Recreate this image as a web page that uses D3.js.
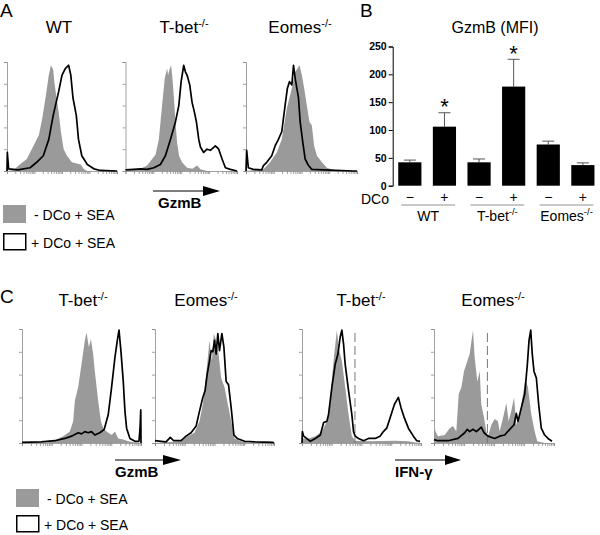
<!DOCTYPE html>
<html><head><meta charset="utf-8">
<script src="https://cdn.jsdelivr.net/npm/d3@7"></script>
<style>body{margin:0;background:#fff}svg{display:block;font-family:"Liberation Sans",Arial,sans-serif}</style>
</head><body><svg id="c" width="600" height="535"></svg>
<script>
// ---------- DATA ----------
// Histograms: [channel (0-100 across plot), % of max]
const A_WT_gray = [[0,0],[6,1],[10.6,5],[18,11],[24,23],[29,33],[32,48],[35,67],[38,88],[40,97],[42,93],[43,82],[45,67],[47,54],[49,36],[51.5,20],[54.5,14],[59,8],[67,6],[70,1.5],[73,0],[100,0]];
const A_WT_black = [[0,0],[0.3,17],[1.5,2],[10,1],[21,3],[27,8],[33,14],[38,29],[42,51],[47,73],[50,88],[53,94],[56,97],[58,88],[60,67],[63,51],[65,29],[68,14],[73,6],[79,2],[85,0.5],[100,0]];
const A_Tbet_gray = [[0,0],[1.5,0.5],[13.4,2],[19.4,5],[23.9,11],[26.9,15],[29.9,29],[32.8,60],[35.2,85],[37.3,94],[38.2,88],[39.4,93],[40.9,97],[42.1,85],[43.3,69],[44.8,45],[46.3,26],[48,14],[50.7,8],[55.2,3],[60,2],[64.2,5],[67.2,1.5],[73,0],[100,0]];
const A_Tbet_black = [[0,1],[7.5,1.5],[13.4,2],[19.4,1.5],[25.4,3],[31.3,6],[35.8,14],[40.3,29],[44.8,45],[47.8,60],[49.9,82],[52.2,97],[53.7,91],[55.2,88],[57.6,79],[59.7,63],[61.8,54],[63.6,45],[65.7,29],[67.2,22],[70.1,17],[73.1,20],[76.1,19],[80.6,23],[83.6,20],[86.6,11],[89.6,3],[94,1.5],[100,0]];
const A_Eomes_gray = [[0,0],[15.7,1.5],[21.7,8],[27.7,17],[32.2,29],[36.7,57],[41.3,76],[44.3,91],[46.4,94],[48.2,97],[50.3,88],[52.4,76],[54.8,60],[57.2,45],[59.3,42],[61.4,23],[63.9,14],[68.4,8],[72.9,3],[78.9,1],[84.9,0],[100,0]];
const A_Eomes_black = [[0,0],[0.6,19],[2.1,3],[6.6,1.5],[14.2,1],[15.7,5],[18.7,8],[23.2,14],[26.2,23],[29.2,29],[32.2,36],[35.2,60],[37.3,76],[39.2,82],[41.3,79],[42.8,97],[44.3,85],[45.8,76],[47.3,67],[48.8,45],[51.2,26],[53.3,11],[56.3,5],[59.3,1.5],[69.9,1],[97,0],[100,0]];

const C_GzmB_Tbet_gray = [[0,0],[21.9,0.5],[28.9,3],[34.6,6],[40.2,10],[43,19],[44.4,37],[47.2,49],[50,69],[52.8,90],[54.2,97],[56.2,84],[57.9,91],[59.8,78],[61.2,63],[64,37],[66.3,19],[68.3,13],[71.1,10],[75.3,7],[78.1,10],[80.9,4],[85.1,3],[89.3,1.5],[94.9,0.5],[100,0]];
const C_GzmB_Tbet_black = [[0,0.5],[16.3,1],[27.5,2],[36,4],[41.6,6],[47.2,9],[50,8],[52.8,10],[55.6,9],[58.4,10],[61.2,7],[65.4,9],[69.1,12],[72.5,25],[75.3,49],[78.1,75],[80.1,90],[81.5,99],[83.1,81],[85.1,54],[86.5,28],[87.9,13],[90.7,4],[94.9,1.5],[98.3,1.5],[99.2,13],[99.8,29],[100,0]];
const C_GzmB_Eomes_gray = [[0,0],[21.9,1.5],[27.5,6],[33.1,9],[37.4,19],[40.2,34],[43,60],[45.8,90],[47.8,72],[49.4,96],[51.4,90],[53.4,78],[55.6,57],[58.4,49],[61.2,34],[64,19],[66.9,4],[72.5,1.5],[78.1,0],[100,0]];
const C_GzmB_Eomes_black = [[0,2],[5.1,1.5],[9.3,1],[12.9,5],[15.7,2],[21.9,2],[26.1,6],[30.3,9],[34.6,15],[37.4,28],[40.2,40],[42.1,46],[43.8,60],[45.8,72],[47.2,81],[48.6,80],[50,90],[51.4,78],[52.8,96],[54.2,81],[56.2,96],[57.9,84],[59.8,54],[61.8,51],[64,31],[66.3,7],[69.1,4],[75.3,1.5],[83.7,1],[99.2,0.5],[100,0]];
const C_IFN_Tbet_gray = [[0,4],[5.6,4],[11.2,6],[16.8,10],[20.9,19],[23.7,34],[25.7,63],[27.4,81],[29.3,99],[31.3,81],[33.5,72],[36.3,49],[39.1,25],[41.9,6],[44.7,2],[55.9,1.5],[78.2,2],[89.4,1.5],[95,0.5],[100,0]];
const C_IFN_Tbet_black = [[0,0],[0.3,10],[1.4,6],[7,1.5],[11.2,4],[15.4,7],[18.2,18],[20.9,19],[22.3,25],[25.1,49],[27.9,69],[30.2,78],[32.1,93],[33.5,99],[34.9,87],[36.3,69],[39.1,46],[41.9,25],[43.3,10],[44.7,6],[47.5,4],[51.7,2],[55.9,4],[61.5,4],[65.6,6],[68.4,10],[71.2,13],[74,22],[77.7,34],[81,40],[83.2,31],[86,22],[89.4,13],[93.6,6],[96.4,2],[99.2,1.5]];
const C_IFN_Eomes_gray = [[0,13],[3.3,6],[8.9,7],[13.1,13],[15.8,15],[18.6,10],[20.6,43],[22.8,49],[25,63],[26.9,69],[29.7,78],[32.5,99],[33.9,75],[36.1,54],[38.1,63],[39.4,34],[41.7,22],[43.6,10],[45,6],[47.8,16],[50.6,21],[53.3,19],[54.7,10],[57.5,22],[60.3,35],[62.2,19],[64.4,28],[66.7,40],[68.6,16],[71.4,25],[74.2,43],[76.1,56],[78.3,49],[81.1,25],[83.9,10],[86.1,1.5],[92.2,0],[100,0]];
const C_IFN_Eomes_black = [[0,3],[3.3,2],[11.7,2],[20,4],[25.6,9],[27.8,12],[29.7,10],[32.5,12],[35.3,10],[39.4,14],[41.7,9],[45,6],[50.6,4],[54.7,6],[58.9,7],[63.1,12],[66.7,16],[68.6,26],[70,19],[72.8,31],[75.6,43],[77.8,69],[79.2,90],[80.6,99],[81.9,78],[83.3,63],[85.3,57],[87.2,34],[89.4,13],[92.2,7],[95,4],[98.3,1.5]];
const ifnGateChannel = 44.5;

// Bar chart (panel B)
const barGroups = ["WT","T-bet","Eomes"];
const dcoSigns = ["\u2212","+"];
const mfiMean = [42, 106, 42, 178, 74, 37];
const mfiErrTop = [46, 131, 48, 227, 80, 41];
const mfiSignificant = [false, true, false, true, false, false];
const mfiTicks = [0, 50, 100, 150, 200, 250];
const legendLabels = ["- DCo + SEA", "+ DCo + SEA"];

// ---------- DRAW ----------
const svg = d3.select("#c");
const FONT = '"Liberation Sans", Arial, sans-serif';
const GRAY = "#9a9a9a", AX = "#8a8a8a";

function title(x, y, main, sup, size, supSize) {
  const t = svg.append("text").attr("x", x).attr("y", y).attr("text-anchor", "middle")
    .attr("font-size", size || 17).attr("fill", "#000");
  t.append("tspan").text(main);
  if (sup) t.append("tspan").attr("font-size", supSize || 11).attr("dy", -6).text(sup);
  return t;
}

function hist(x0, x1, yTop, yBot, gray, black, gate) {
  const x = d3.scaleLinear().domain([0, 100]).range([x0, x1]);
  const y = d3.scaleLinear().domain([0, 100]).range([yBot, yTop]);
  const xl = d3.scaleLog().domain([1, 10000]).range([x0, x1]);
  const gx = svg.append("g").attr("transform", `translate(0,${yBot})`)
    .call(d3.axisBottom(xl).tickSize(3).tickFormat(""));
  const gy = svg.append("g").attr("transform", `translate(${x0},0)`)
    .call(d3.axisLeft(y).tickValues([0,20,40,60,80,100]).tickSize(3).tickFormat(""));
  [gx, gy].forEach(g => { g.selectAll("path,line").attr("stroke", AX).attr("stroke-width", 0.8); });
  svg.append("path").datum(gray)
    .attr("d", d3.area().x(d => x(d[0])).y0(y(0)).y1(d => y(d[1])))
    .attr("fill", GRAY);
  if (gate != null) {
    svg.append("line").attr("x1", x(gate)).attr("x2", x(gate))
      .attr("y1", yTop + 4).attr("y2", yBot)
      .attr("stroke", "#777").attr("stroke-width", 1).attr("stroke-dasharray", "9,4");
  }
  svg.append("path").datum(black)
    .attr("d", d3.line().x(d => x(d[0])).y(d => y(d[1])))
    .attr("fill", "none").attr("stroke", "#000").attr("stroke-width", 1.7)
    .attr("stroke-linejoin", "round");
}

function arrow(x0, x1, xh, y, label, lx) {
  svg.append("line").attr("x1", x0).attr("x2", x1).attr("y1", y).attr("y2", y)
    .attr("stroke", "#000").attr("stroke-width", 1);
  svg.append("path").attr("d", `M${x1},${y-5}L${xh},${y}L${x1},${y+5}Z`).attr("fill", "#000");
  svg.append("text").attr("x", lx).attr("y", y + 17).attr("font-size", 15)
    .attr("font-weight", "bold").text(label);
}

function legend(x, y, gap) {
  svg.append("rect").attr("x", x).attr("y", y).attr("width", 23).attr("height", 18).attr("fill", GRAY);
  svg.append("text").attr("x", x + 31).attr("y", y + 15).attr("font-size", 14).text(legendLabels[0]);
  svg.append("rect").attr("x", x + 0.75).attr("y", y + gap + 0.75).attr("width", 22).attr("height", 16)
    .attr("fill", "#fff").attr("stroke", "#000").attr("stroke-width", 1.5);
  svg.append("text").attr("x", x + 28).attr("y", y + gap + 15).attr("font-size", 14).text(legendLabels[1]);
}

// Panel letters
svg.append("text").attr("x", 0).attr("y", 17).attr("font-size", 19).text("A");
svg.append("text").attr("x", 360).attr("y", 17).attr("font-size", 19).text("B");
svg.append("text").attr("x", 0).attr("y", 303).attr("font-size", 19).text("C");

// Panel A
title(59, 33, "WT");
title(184, 33, "T-bet", "-/-");
title(300, 33, "Eomes", "-/-");
hist(7, 117, 62, 171, A_WT_gray, A_WT_black);
hist(125.5, 237, 62, 171, A_Tbet_gray, A_Tbet_black);
hist(246, 357, 62, 171, A_Eomes_gray, A_Eomes_black);
arrow(153, 203, 220, 191, "GzmB", 158);
legend(3, 205, 28);

// Panel B
const bx = d3.scaleBand().domain(d3.range(mfiMean.length)).range([392.7, 600]).paddingInner(0.33).paddingOuter(0.16);
const by = d3.scaleLinear().domain([0, 250]).range([185.7, 46.5]);
const gya = svg.append("g").attr("transform", "translate(392.7,0)")
  .call(d3.axisLeft(by).tickValues(mfiTicks).tickSize(4).tickPadding(2));
gya.selectAll("text").attr("font-size", 10.5).attr("font-weight", "bold").attr("font-family", FONT).attr("fill", "#000");
gya.selectAll("path,line").attr("stroke", "#000");
svg.append("text").attr("x", 495).attr("y", 33).attr("text-anchor", "middle").attr("font-size", 16).text("GzmB (MFI)");
mfiMean.forEach((v, i) => {
  const cx = bx(i) + bx.bandwidth() / 2;
  svg.append("line").attr("x1", cx).attr("x2", cx).attr("y1", by(v)).attr("y2", by(mfiErrTop[i]))
    .attr("stroke", "#555").attr("stroke-width", 1);
  svg.append("line").attr("x1", cx - 6).attr("x2", cx + 6).attr("y1", by(mfiErrTop[i])).attr("y2", by(mfiErrTop[i]))
    .attr("stroke", "#555").attr("stroke-width", 1);
  svg.append("rect").attr("x", bx(i)).attr("y", by(v)).attr("width", bx.bandwidth()).attr("height", by(0) - by(v)).attr("fill", "#000");
  if (mfiSignificant[i]) svg.append("text").attr("x", cx).attr("y", by(mfiErrTop[i]) + 1.5)
    .attr("text-anchor", "middle").attr("font-size", 22).text("*");
  svg.append("text").attr("x", cx).attr("y", 202).attr("text-anchor", "middle").attr("font-size", 14).text(dcoSigns[i % 2]);
});
svg.append("text").attr("x", 389).attr("y", 203.5).attr("text-anchor", "end").attr("font-size", 14).text("DCo");
barGroups.forEach((g, k) => {
  const xa = bx(2 * k) + 3, xb = bx(2 * k + 1) + bx.bandwidth() - 1;
  svg.append("line").attr("x1", xa).attr("x2", xb).attr("y1", 205).attr("y2", 205).attr("stroke", "#777").attr("stroke-width", 0.8);
  const cx = (xa + xb) / 2;
  if (k === 0) title(cx, 221, g, null, 14);
  else title(cx, 221, g, "-/-", 14, 9.5);
});

// Panel C
title(83, 306, "T-bet", "-/-");
title(206, 306, "Eomes", "-/-");
title(361, 306, "T-bet", "-/-");
title(493, 306, "Eomes", "-/-");
hist(22, 141, 329, 443, C_GzmB_Tbet_gray, C_GzmB_Tbet_black);
hist(155, 274, 329, 443, C_GzmB_Eomes_gray, C_GzmB_Eomes_black);
hist(302, 421, 329, 443, C_IFN_Tbet_gray, C_IFN_Tbet_black, ifnGateChannel);
hist(434, 554, 329, 443, C_IFN_Eomes_gray, C_IFN_Eomes_black, ifnGateChannel);
arrow(115, 163, 181, 460, "GzmB", 115);
arrow(395, 445, 461, 460, "IFN-\u03b3", 395);
legend(16, 489, 26);
</script></body></html>
